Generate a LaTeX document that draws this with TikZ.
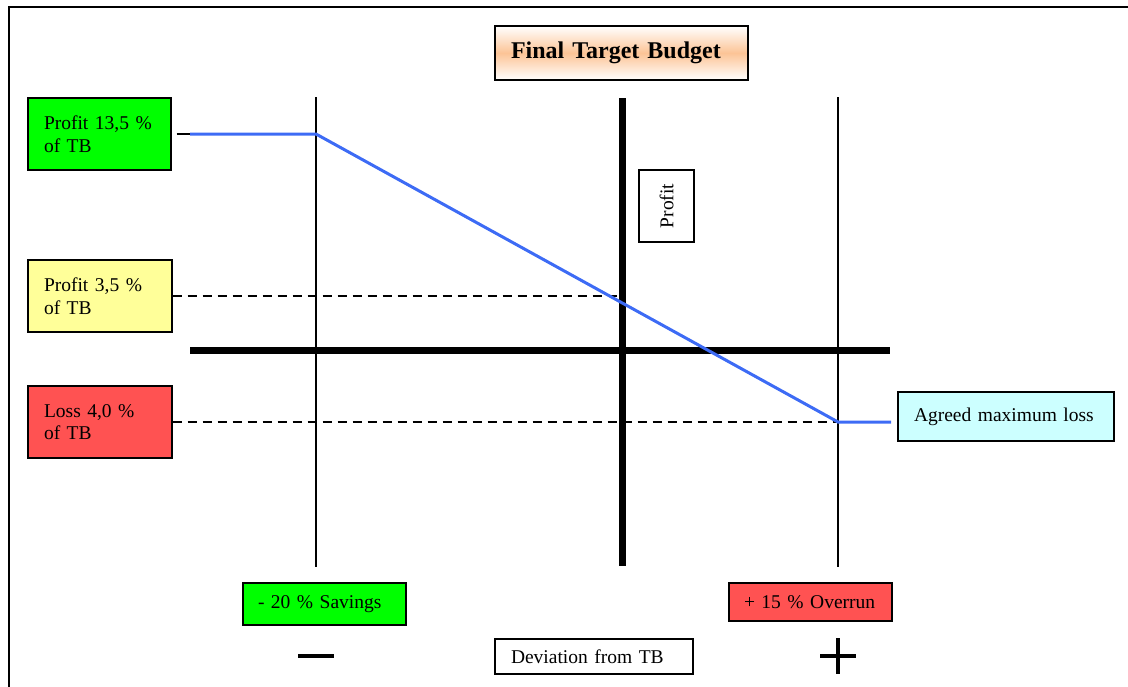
\documentclass[tikz,border=0pt]{standalone}
\usepackage{fontspec}
\setmainfont{Liberation Serif}

\definecolor{boxgreen}{RGB}{0,255,0}
\definecolor{boxyellow}{RGB}{255,255,153}
\definecolor{boxred}{RGB}{255,82,82}
\definecolor{boxcyan}{RGB}{204,255,255}
\definecolor{peach}{RGB}{252,196,150}
\definecolor{curveblue}{RGB}{61,107,245}

\tikzset{
  lbl/.style={draw, line width=1.3pt, align=left, inner xsep=16pt, inner ysep=0pt,
    font=\fontsize{19.5}{22.5}\selectfont},
  thinline/.style={line width=1.3pt},
  axisline/.style={line width=7pt},
  guide/.style={line width=1.3pt, dash pattern=on 9pt off 6pt},
  curve/.style={curveblue, line width=3pt},
  sign/.style={line width=4pt}
}

\begin{document}
\begin{tikzpicture}[x=1pt,y=-1pt]
    \useasboundingbox (0,0) rectangle (1128,686);

    % Frame
    \draw[line width=2pt] (1132,6.5) -- (8.5,6.5) -- (8.5,690);

    % Title
    \node[lbl, line width=2pt, text width=221pt, minimum height=54pt,
          top color=white, bottom color=white, middle color=peach,
          font=\fontsize{24}{27}\selectfont\bfseries] (title) at (621.5,53) {Final Target Budget};

    % Axes and limits
    \draw[thinline] (316,97) -- (316,567);
    \draw[thinline] (838,97) -- (838,567);
    \draw[axisline] (622,98) -- (622,566);
    \draw[axisline] (190,350) -- (890,350);

    % Levels on the left
    \node[lbl, fill=boxgreen, text width=111pt, minimum height=72pt] (p135) at (99.5,134) {Profit 13,5 \%\\of TB};
    \node[lbl, fill=boxyellow, text width=112pt, minimum height=72pt] (p35) at (100,296) {Profit 3,5 \%\\of TB};
    \node[lbl, fill=boxred, text width=112pt, minimum height=72pt] (l40) at (100,422) {Loss 4,0 \%\\of TB};

    % Profit label
    \node[lbl, rotate=90, align=center, inner xsep=6pt, minimum width=72pt, minimum height=55pt] (prf) at (666.5,206) {Profit};

    % Right label
    \node[lbl, fill=boxcyan, text width=184pt, minimum height=49pt] (maxloss) at (1006,416.5) {Agreed maximum loss};

    % Bottom labels
    \node[lbl, fill=boxgreen, inner xsep=15pt, text width=133pt, minimum height=42pt] (sav) at (324.5,604) {- 20 \% Savings};
    \node[lbl, fill=boxred, inner xsep=15pt, text width=133pt, minimum height=38pt] (ovr) at (810.5,602) {+ 15 \% Overrun};
    \node[lbl, text width=166pt, minimum height=35pt] (dev) at (594,656.5) {Deviation from TB};

    % Signs
    \draw[sign] (298,656) -- (334,656);
    \draw[sign] (820,656) -- (856,656);
    \draw[sign] (838,638) -- (838,674);

    % Key points
    \coordinate (s0) at (190,134);
    \coordinate (k1) at (316,134);
    \coordinate (c35) at (622,296);
    \coordinate (k2) at (838,422);
    \coordinate (s1) at (891,422);

    % Guides
    \draw[guide] (p35.east) -- (c35);
    \draw[guide] (l40.east) -- (k2);

    % Share curve
    \draw[thinline] ([xshift=5pt]p135.east) -- (s0);
    \draw[curve] (s0) -- (k1) -- (k2) -- (s1);
\end{tikzpicture}
\end{document}
